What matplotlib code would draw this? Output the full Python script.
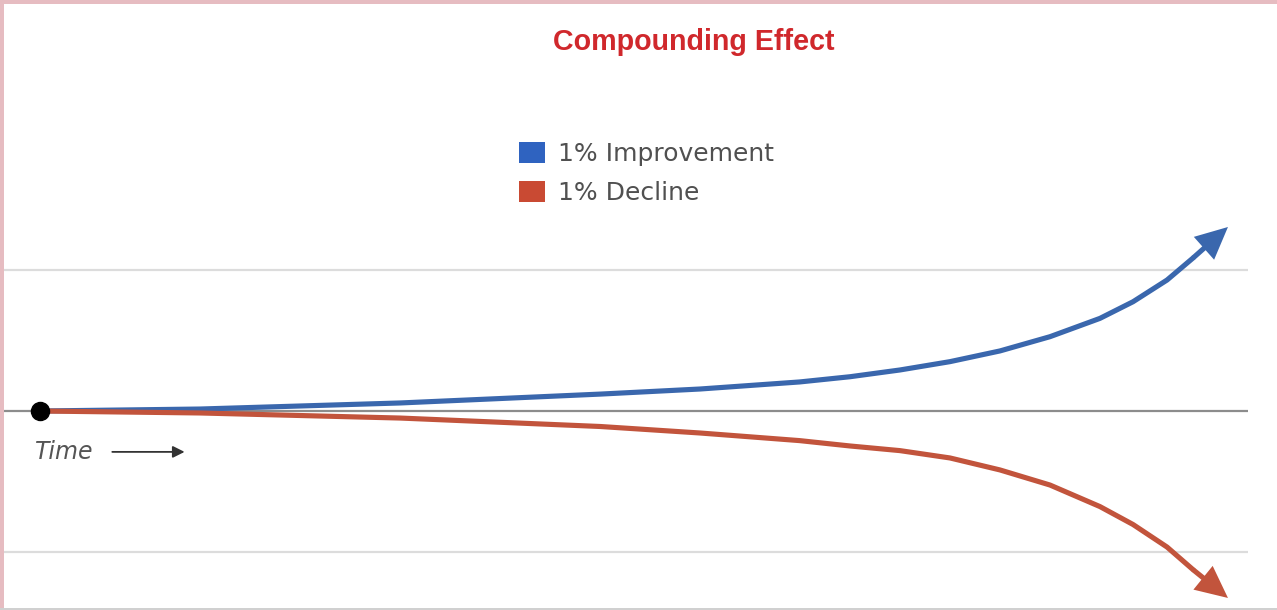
import matplotlib.pyplot as plt
from matplotlib.patches import Rectangle, Patch

# time axis (0..100) and values relative to start (gridlines at +1 / -1)
t_improve = [0, 13.5, 30.4, 47.3, 55.7, 64.1, 68.35, 72.57, 76.79, 81.01, 85.23, 89.45, 92.24, 95.11, 97.3, 100.25]
v_improve = [0, 0.014, 0.057, 0.12, 0.156, 0.206, 0.243, 0.291, 0.35, 0.426, 0.527, 0.657, 0.775, 0.929, 1.085, 1.305]

t_decline = [0, 13.5, 30.4, 47.3, 55.7, 64.1, 68.35, 72.57, 76.79, 81.01, 85.23, 89.45, 92.24, 95.11, 97.3, 100.25]
v_decline = [0, -0.014, -0.05, -0.11, -0.156, -0.21, -0.248, -0.281, -0.333, -0.418, -0.525, -0.678, -0.805, -0.965, -1.125, -1.326]

grid_levels = [1, 0, -1]
series_labels = ['1% Improvement', '1% Decline']
title = 'Compounding Effect'

blue = '#3a67ad'
red = '#c2543c'

plt.rcParams['font.family'] = ['DejaVu Sans']

fig = plt.figure(figsize=(12.77, 6.10), dpi=100)
ax = fig.add_axes([0, 0, 1, 1])
ax.set_xlim(-40 / 11.85, (1277 - 40) / 11.85)
ax.set_ylim(-199 / 141, 411 / 141)
ax.axis('off')

# gridlines
for lvl in grid_levels:
    if lvl == 0:
        ax.hlines(lvl, -3.04, 101.9, color='#8c8c8c', lw=1.6, zorder=1)
    else:
        ax.hlines(lvl, -3.04, 101.9, color='#dcdcdc', lw=1.6, zorder=1)

# curves, last segment drawn as a filled arrow
for t, v, c in [(t_improve, v_improve, blue), (t_decline, v_decline, red)]:
    ax.plot(t[:-1], v[:-1], color=c, lw=3.7, solid_capstyle='round',
            solid_joinstyle='round', zorder=3)
    ax.annotate('', xy=(t[-1], v[-1]), xytext=(t[-2], v[-2]),
                arrowprops=dict(arrowstyle='simple,head_length=1.05,head_width=1.0,tail_width=0.168',
                                mutation_scale=22, color=c, lw=0,
                                shrinkA=0, shrinkB=0), zorder=3)

# start point
ax.plot([0], [0], 'o', color='black', markersize=13, zorder=4)

# time label
ax.text(-0.42, -0.29, 'Time', fontsize=17, style='italic', color='#555555',
        ha='left', va='center')
ax.annotate('', xy=(12.2, -0.29), xytext=(6.1, -0.29),
            arrowprops=dict(arrowstyle='-|>,head_length=0.5,head_width=0.25',
                            mutation_scale=14, color='#333333', lw=1.3,
                            shrinkA=0, shrinkB=0))

# title
fig.text(694 / 1277, 1 - 42 / 610, title, color='#d0282c', fontsize=20.6,
         fontweight='bold', family='Liberation Sans', ha='center', va='center')

# legend
handles = [Patch(facecolor='#2f63c0', edgecolor='none'),
           Patch(facecolor='#c94a33', edgecolor='none')]
ax.legend(handles, series_labels, loc='upper left',
          bbox_to_anchor=(519 / 1277, 1 - 142 / 610), frameon=False,
          fontsize=18, labelcolor='#505050', handlelength=1.04, handleheight=0.88,
          handletextpad=0.5, labelspacing=0.6, borderaxespad=0, borderpad=0)

# pinkish border of the original image
fig.patches.append(Rectangle((0, 1 - 4 / 610), 1, 4 / 610, transform=fig.transFigure,
                             facecolor='#e6bcc1', edgecolor='none'))
fig.patches.append(Rectangle((0, 0), 4 / 1277, 1, transform=fig.transFigure,
                             facecolor='#e6bcc1', edgecolor='none'))
fig.patches.append(Rectangle((0, 0), 1, 2 / 610, transform=fig.transFigure,
                             facecolor='#d0d0d0', edgecolor='none'))

fig.savefig('out.png', dpi=100)
